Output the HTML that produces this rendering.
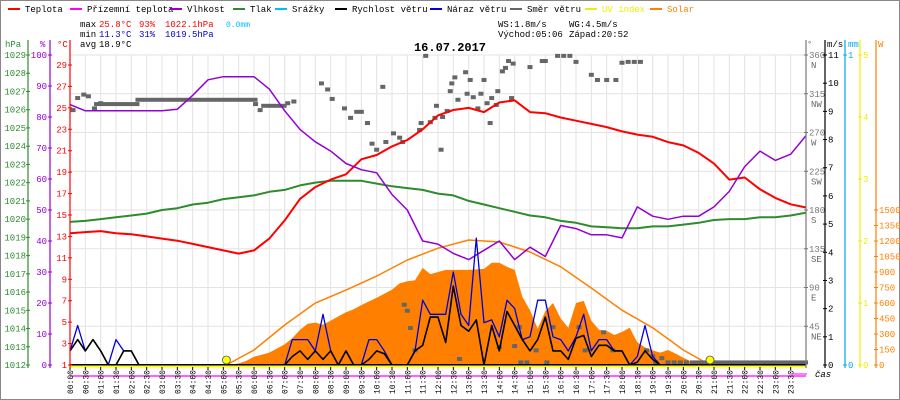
<!DOCTYPE html>
<html><head><meta charset="utf-8">
<style>
html,body{margin:0;padding:0;background:#fff;}
svg{display:block;font-family:"Liberation Mono",monospace;}
</style></head>
<body>
<svg id="chart" width="900" height="400" viewBox="0 0 900 400"></svg>
<script>
// ---- data ----
const halfHours = [0,0.5,1,1.5,2,2.5,3,3.5,4,4.5,5,5.5,6,6.5,7,7.5,8,8.5,9,9.5,10,10.5,11,11.5,12,12.5,13,13.5,14,14.5,15,15.5,16,16.5,17,17.5,18,18.5,19,19.5,20,20.5,21,21.5,22,22.5,23,23.5,24];
const temperature = [13.3,13.4,13.5,13.3,13.2,13.0,12.8,12.6,12.3,12.0,11.7,11.4,11.7,12.8,14.5,16.5,17.6,18.3,18.8,20.2,20.6,21.4,22.0,23.0,24.3,24.8,25.0,24.6,25.5,25.7,24.6,24.5,24.1,23.8,23.5,23.2,22.8,22.5,22.3,21.8,21.5,20.8,19.8,18.3,18.5,17.4,16.6,16.0,15.7];
const humidity = [84,82,82,82,82,82,82,82.5,87,92,93,93,93,89,82,76,72,69,65,63,62,55,50,40,39,36,34,37,40,34,38,35,45,44,42,42,41,51,48,47,48,48,51,56,64,69,66,68,74];
const pressure = [1019.85,1019.9,1020.0,1020.1,1020.2,1020.3,1020.5,1020.6,1020.8,1020.9,1021.1,1021.2,1021.3,1021.5,1021.6,1021.85,1022.0,1022.1,1022.1,1022.1,1021.95,1021.8,1021.7,1021.6,1021.4,1021.3,1021.0,1020.8,1020.6,1020.4,1020.2,1020.1,1019.9,1019.8,1019.6,1019.55,1019.5,1019.5,1019.6,1019.6,1019.7,1019.8,1019.95,1020.0,1020.0,1020.1,1020.1,1020.2,1020.35];
// wind every 15 minutes from 00:00 to 24:00
const windSpeed = [0.5,0.9,0.5,0.9,0.5,0,0,0.5,0.5,0,
 0,0,0,0,0,0,0,0,0,0,0,0,0,0,0,0,0,0,
 0,0.3,0.5,0.2,0.5,0.2,0.5,0,0.5,0,0,0.2,0.5,0.4,0,0,0,0.5,0.7,1.7,1.7,0.8,2.8,1.4,1.2,1.6,0,1.4,0.5,1.9,1.4,0.9,0.5,0.9,1.7,0.5,0.5,0.2,0.95,1.05,0.3,0.7,0.7,0.5,0.5,0,0.1,0.5,0.2,
 0,0,0,0,0,0,0,0,0,0,0,0,0,0,0,0,0,0,0,0];
const windGust = [0.5,1.4,0.5,0.9,0.5,0,0.9,0.5,0.5,0,
 0,0,0,0,0,0,0,0,0,0,0,0,0,0,0,0,0,0,
 0,0.9,0.9,0.9,0.5,1.8,0.5,0,0.5,0,0,0.9,0.9,0.5,0,0,0,0.5,2.3,1.8,1.8,1.8,3.3,1.8,1.4,4.5,1.5,1.6,1.0,2.3,2.0,0.9,1.0,2.3,2.3,1.0,0.9,0.5,1.0,1.8,0.5,0.9,0.9,0.5,0.5,0,0.3,1.4,0.3,
 0,0,0,0,0,0,0,0,0,0,0,0,0,0,0,0,0,0,0,0];
// solar every 15 minutes from 05:00 to 21:00
const solarStart = 5;
const solar = [0,5,15,40,80,100,120,160,200,260,340,400,410,390,430,470,510,540,580,615,650,690,730,790,810,820,940,880,900,920,920,920,920,925,930,990,990,950,920,660,530,350,520,600,450,360,600,620,430,340,330,290,320,360,220,170,140,120,145,110,70,35,15,5,0];
const solarMaxHours = [5.1,6,7,8,9,10,11,12,13,14,15,16,17,18,19,20,20.87];
const solarMax = [0,145,387,600,725,860,1016,1130,1210,1190,1094,950,745,530,360,145,0];
const dirHours = [0.1,0.25,0.45,0.6,0.8,1.0,6.05,6.2,7.1,7.3,8.2,8.4,8.55,8.95,9.15,9.35,9.5,9.7,9.85,10.0,10.2,10.3,10.55,10.75,10.85,10.9,11.0,11.1,11.25,11.4,11.45,11.6,11.75,11.9,11.95,12.1,12.15,12.3,12.4,12.45,12.55,12.65,12.7,12.9,12.95,13.05,13.15,13.3,13.4,13.5,13.6,13.7,13.75,13.9,13.95,14.0,14.1,14.2,14.3,14.4,14.45,14.5,14.65,14.7,14.9,15.0,15.2,15.4,15.5,15.55,15.75,15.9,16.1,16.3,16.5,16.6,16.8,17.0,17.2,17.4,17.5,17.7,17.8,18.0,18.2,18.4,18.6,18.8,19.0,19.1,19.3,19.5,19.7,19.9,20.1,20.3];
const dirDegs = [296,310,314,312,298,304,303,296,304,306,327,320,309,298,287,294,294,281,257,250,323,259,269,264,259,70,63,43,17,273,281,359,282,287,301,250,288,295,318,327,334,308,7,340,315,331,311,298,315,331,304,281,310,302,318,21,341,345,353,310,350,22,44,3,3,346,17,353,353,3,44,359,359,359,352,44,17,337,331,38,331,17,331,351,352,352,352,17,10,3,8,3,3,3,3,3];
const dirRunStart = [0.85,2.2,6.3,20.4];
const dirRunEnd = [2.2,6.05,7.0,24];
const dirRunDeg = [303,308,301,3];
const hpaTicks = [1012,1013,1014,1015,1016,1017,1018,1019,1020,1021,1022,1023,1024,1025,1026,1027,1028,1029];
const humTicks = [0,10,20,30,40,50,60,70,80,90,100];
const tempTicks = [1,3,5,7,9,11,13,15,17,19,21,23,25,27,29];
const dirTicks = [45,90,135,180,225,270,315,360];
const dirNames = ["NE","E","SE","S","SW","W","NW","N"];
const msTicks = [0,1,2,3,4,5,6,7,8,9,10,11];
const mmTicks = [0,1];
const uvTicks = [0,1,2,3,4,5];
const wTicks = [0,150,300,450,600,750,900,1050,1200,1350,1500];
const sunTimes = [5.1,20.87];

// ---- scales ----
const X = h => 70 + h*736/24;
const yT = t => 365 - (t-1)*300/28;
const yH = p => 365 - p*3.1;
const yP = p => 365 - (p-1012)*310/17;
const yD = d => 365 - d*310/360;
const yV = v => 365 - v*310/11;
const yMM = m => 365 - m*310;
const yUV = u => 365 - u*62;
const yW = w => 365 - w*155/1500;

const NS="http://www.w3.org/2000/svg";
const svg=document.getElementById('chart');
function mk(tag,attrs,parent){const e=document.createElementNS(NS,tag);for(const k in attrs)e.setAttribute(k,attrs[k]);(parent||svg).appendChild(e);return e;}
function txt(s,x,y,fill,size,anchor,parent){const t=mk('text',{x:x,y:y,fill:fill,'font-size':size||9,'text-anchor':anchor||'start'},parent);t.textContent=s;return t;}

// border
const border=mk('rect',{x:0.5,y:0.5,width:899,height:399,fill:'none',stroke:'#888'});



// grid
const grid=mk('g',{});


for(let i=0;i<=48;i++){mk('line',{x1:X(i/2),x2:X(i/2),y1:55,y2:365,stroke:'#e6e2e2','stroke-width':1},grid);}
for(let k=0;k<=8;k++){const y=55+k*310/8;mk('line',{x1:70,x2:806,y1:y,y2:y,stroke:'#e6e2e2','stroke-width':1},grid);}

// solar fill
let sp='M'+X(solarStart)+',365 ';
solar.forEach((w,i)=>{const h=solarStart+i*0.25;sp+='L'+X(h).toFixed(1)+','+yW(w).toFixed(1)+' ';});
sp+='L'+X(solarStart+(solar.length-1)*0.25)+',365 Z';
const solarArea=mk('path',{d:sp,fill:'#ff8000',stroke:'none'});



// solar max curve
const smax=mk('polyline',{points:solarMaxHours.map((h,i)=>X(h).toFixed(1)+','+yW(solarMax[i]).toFixed(1)).join(' '),fill:'none',stroke:'#ff8000','stroke-width':1.5});



// wind direction
const dirG=mk('g',{fill:'#666'});


dirHours.forEach((h,i)=>{const r=mk('rect',{x:X(h)-2.5,y:yD(dirDegs[i])-2,width:5,height:4},dirG);

});
dirRunStart.forEach((h,i)=>{const r=mk('rect',{x:X(h)-2,y:yD(dirRunDeg[i])-2,width:X(dirRunEnd[i])-X(h)+4,height:4},dirG);

});

function line(name,xs,ys,color,w){const p=mk('polyline',{points:xs.map((x,i)=>x.toFixed(1)+','+ys[i].toFixed(1)).join(' '),fill:'none',stroke:color,'stroke-width':w,'stroke-linejoin':'round'});return p;}
const hx=halfHours.map(X);
const pl=line('p',hx,pressure.map(yP),'#2e8b2e',2);


const tl=line('t',hx,temperature.map(yT),'#ff0000',2);


const hl=line('h',hx,humidity.map(yH),'#9400d3',1.5);


const qx=windSpeed.map((v,i)=>X(i*0.25));
const gl=line('g',qx,windGust.map(yV),'#0000dd',1.3);


const wl=line('w',qx,windSpeed.map(yV),'#000',1.6);



// baseline + UV
const base=mk('line',{x1:70,x2:806,y1:365,y2:365,stroke:'#000','stroke-width':2});


const uv=mk('line',{x1:70,x2:806,y1:366.5,y2:366.5,stroke:'#ffff00','stroke-width':2});


const gt=mk('line',{x1:70,x2:806,y1:376,y2:376,stroke:'#ff00ff','stroke-width':1.2});


sunTimes.forEach(h=>{const c=mk('circle',{cx:X(h),cy:360,r:4,fill:'#ffff00',stroke:'#555','stroke-width':0.8});

});

// time labels
const tg=mk('g',{});


for(let i=0;i<48;i++){const h=i/2;const x=X(h);
mk('line',{x1:x,x2:x,y1:367,y2:370,stroke:'#000'},tg);
const s=String(Math.floor(h)).padStart(2,'0')+':'+(i%2?'30':'00');
const t=txt(s,0,0,'#000',8,'end',tg);t.setAttribute('transform','translate('+(x+3)+',370) rotate(-90)');}
const cas=txt('čas',815,377,'#000',9,'start');
cas.setAttribute('font-style','italic');


mk('line',{x1:790,x2:807,y1:374,y2:374,stroke:'#ff00ff'});

// axes
function axis(name,x,ticks,yf,color,labelX,anchor,labels){
 const g=mk('g',{});
 mk('line',{x1:x,x2:x,y1:40,y2:368,stroke:color,'stroke-width':1.2},g);
 ticks.forEach((v,i)=>{const y=yf(v);mk('line',{x1:x-2,x2:x+2,y1:y,y2:y,stroke:color},g);
  txt(labels?labels[i]:String(v),labelX,y+3,color,9,anchor,g);});
 return g;}
const a1=axis('pressure-axis',28,hpaTicks,yP,'#2e8b2e',26,'end');

const a2=axis('humidity-axis',50,humTicks,yH,'#9400d3',47,'end');

const a3=axis('temperature-axis',70,tempTicks,yT,'#ff0000',67,'end');

const a4=axis('wind-direction-axis',806,dirTicks,yD,'#777',809,'start');

dirTicks.forEach((d,i)=>txt(dirNames[i],811,yD(d)+13,'#666',9,'start',a4));
const a5=axis('wind-speed-axis',825,msTicks,yV,'#000',828,'start');

const a6=axis('rain-axis',845,mmTicks,yMM,'#00aaee',848,'start');

const a7=axis('uv-axis',860,uvTicks,yUV,'#eeee00',863,'start');

const a8=axis('solar-axis',876,wTicks,yW,'#ff8000',879,'start');

[['hPa',5,'#2e8b2e'],['%',40,'#9400d3'],['°C',57,'#ff0000'],['°',807,'#777'],['m/s',827,'#000'],['mm',848,'#00aaee'],['W',878,'#ff8000']].forEach(a=>{
 const t=txt(a[0],a[1],47,a[2],9,'start');
 
 });

// legend
const legendItems=[['Teplota','#ff0000',8],['Přízemní teplota','#ff00ff',70],['Vlhkost','#9400d3',170],['Tlak','#2e8b2e',233],['Srážky','#00bbff',275],['Rychlost větru','#000',335],['Náraz větru','#0000dd',430],['Směr větru','#666',510],['UV index','#eeee00',585],['Solar','#ff8000',650]];
legendItems.forEach(it=>{const g=mk('g',{});
 
 
 mk('rect',{x:it[2],y:8,width:12,height:2,fill:it[1]},g);
 txt(it[0],it[2]+17,12,it[1]==='#eeee00'?'#eeee00':(it[1]==='#ff8000'?'#ff8000':'#000'),9,'start',g);});

// stats
const st=mk('g',{});


txt('max',80,27,'#000',9,'start',st);txt('25.8°C',99,27,'#f00',9,'start',st);txt('93%',139,27,'#f00',9,'start',st);txt('1022.1hPa',165,27,'#f00',9,'start',st);txt('0.0mm',226,27,'#00bbff',8,'start',st);
txt('min',80,37,'#000',9,'start',st);txt('11.3°C',99,37,'#00c',9,'start',st);txt('31%',139,37,'#00c',9,'start',st);txt('1019.5hPa',165,37,'#00c',9,'start',st);
txt('avg',80,47,'#000',9,'start',st);txt('18.9°C',99,47,'#000',9,'start',st);
txt('WS:1.8m/s',498,27,'#000',9,'start',st);txt('WG:4.5m/s',569,27,'#000',9,'start',st);
txt('Východ:05:06',498,37,'#000',9,'start',st);txt('Západ:20:52',569,37,'#000',9,'start',st);
const title=txt('16.07.2017',450,51,'#000',12,'middle');
title.setAttribute('font-weight','bold');


</script>
</body></html>
